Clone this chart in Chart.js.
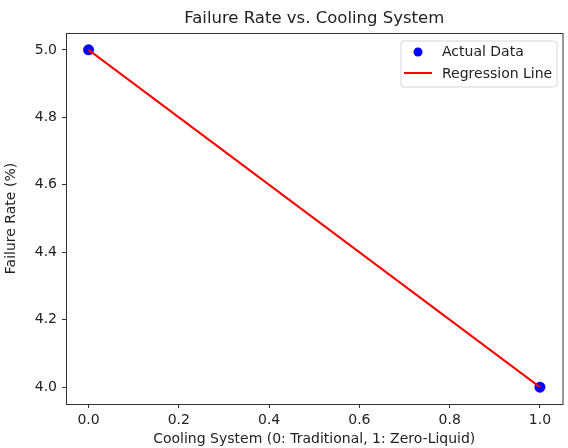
<!DOCTYPE html>
<html lang="en">
<head>
    <meta charset="UTF-8">
    <title>Failure Rate vs. Cooling System</title>
    <script src="https://cdn.jsdelivr.net/npm/chart.js"></script>
    <style>
        html, body {
            margin: 0;
            padding: 0;
            background: #fff;
        }
        canvas {
            display: block;
        }
    </style>
</head>
<body>
    <canvas id="chart" width="568" height="448"></canvas>
    <script>
        // data
        const coolingSystem = [0, 1];
        const failureRate = [5.0, 4.0];
        const regressionX = [0, 1];
        const regressionY = [5.0, 4.0];
        const xTicks = [0.0, 0.2, 0.4, 0.6, 0.8, 1.0];
        const yTicks = [4.0, 4.2, 4.4, 4.6, 4.8, 5.0];

        const font = "'DejaVu Sans', sans-serif";
        const textColor = '#222';

        const framePlugin = {
            id: 'frame',
            afterDraw(chart) {
                const { ctx, chartArea: a } = chart;
                ctx.save();
                ctx.strokeStyle = '#333';
                ctx.lineWidth = 1;
                ctx.strokeRect(a.left + 0.5, a.top + 0.5, a.right - a.left, a.bottom - a.top);

                // title centred over the plot area
                ctx.fillStyle = textColor;
                ctx.font = '16.5px ' + font;
                ctx.textAlign = 'center';
                ctx.textBaseline = 'middle';
                ctx.fillText('Failure Rate vs. Cooling System', (a.left + a.right) / 2, 19);

                // legend in the upper right corner
                const bx = 401, by = 41, bw = 156, bh = 46, r = 3;
                ctx.beginPath();
                ctx.moveTo(bx + r, by);
                ctx.arcTo(bx + bw, by, bx + bw, by + bh, r);
                ctx.arcTo(bx + bw, by + bh, bx, by + bh, r);
                ctx.arcTo(bx, by + bh, bx, by, r);
                ctx.arcTo(bx, by, bx + bw, by, r);
                ctx.closePath();
                ctx.fillStyle = 'rgba(255,255,255,0.8)';
                ctx.fill();
                ctx.strokeStyle = '#d6d6d6';
                ctx.lineWidth = 1;
                ctx.stroke();

                ctx.fillStyle = '#0000ff';
                ctx.beginPath();
                ctx.arc(418, 52, 4.5, 0, Math.PI * 2);
                ctx.fill();

                ctx.strokeStyle = '#ff0000';
                ctx.lineWidth = 2;
                ctx.beginPath();
                ctx.moveTo(404, 73);
                ctx.lineTo(432, 73);
                ctx.stroke();

                ctx.fillStyle = textColor;
                ctx.font = '14px ' + font;
                ctx.textAlign = 'left';
                ctx.fillText('Actual Data', 442, 52);
                ctx.fillText('Regression Line', 442, 74);
                ctx.restore();
            }
        };

        new Chart(document.getElementById('chart'), {
            type: 'scatter',
            data: {
                datasets: [
                    {
                        label: 'Actual Data',
                        data: coolingSystem.map((x, i) => ({ x: x, y: failureRate[i] })),
                        backgroundColor: '#0000ff',
                        borderWidth: 0,
                        pointRadius: 5.5,
                        order: 1
                    },
                    {
                        type: 'line',
                        label: 'Regression Line',
                        data: regressionX.map((x, i) => ({ x: x, y: regressionY[i] })),
                        borderColor: '#ff0000',
                        borderWidth: 2,
                        pointRadius: 0,
                        fill: false,
                        tension: 0,
                        order: 0
                    }
                ]
            },
            options: {
                responsive: false,
                animation: false,
                layout: { padding: { top: 33, right: 4, left: 0, bottom: 0 } },
                plugins: {
                    legend: { display: false },
                    title: { display: false },
                    tooltip: { enabled: false }
                },
                scales: {
                    x: {
                        type: 'linear',
                        min: -0.05,
                        max: 1.05,
                        afterBuildTicks: s => { s.ticks = xTicks.map(v => ({ value: v })); },
                        afterFit: s => { s.height = 44; },
                        border: { display: false },
                        grid: { drawOnChartArea: false, tickLength: 4, color: '#333' },
                        ticks: {
                            color: textColor,
                            font: { family: font, size: 14 },
                            padding: 4,
                            maxRotation: 0,
                            callback: v => v.toFixed(1)
                        },
                        title: {
                            display: true,
                            text: 'Cooling System (0: Traditional, 1: Zero-Liquid)',
                            color: textColor,
                            font: { family: font, size: 14 },
                            padding: { top: 0, bottom: 0 }
                        }
                    },
                    y: {
                        min: 3.95,
                        max: 5.05,
                        afterBuildTicks: s => { s.ticks = yTicks.map(v => ({ value: v })); },
                        afterFit: s => { s.width = 66; },
                        border: { display: false },
                        grid: { drawOnChartArea: false, tickLength: 4, color: '#333' },
                        ticks: {
                            color: textColor,
                            font: { family: font, size: 14 },
                            padding: 5,
                            callback: v => v.toFixed(1)
                        },
                        title: {
                            display: true,
                            text: 'Failure Rate (%)',
                            color: textColor,
                            font: { family: font, size: 14 },
                            padding: { top: 3, bottom: 0 }
                        }
                    }
                }
            },
            plugins: [framePlugin]
        });
    </script>
</body>
</html>
